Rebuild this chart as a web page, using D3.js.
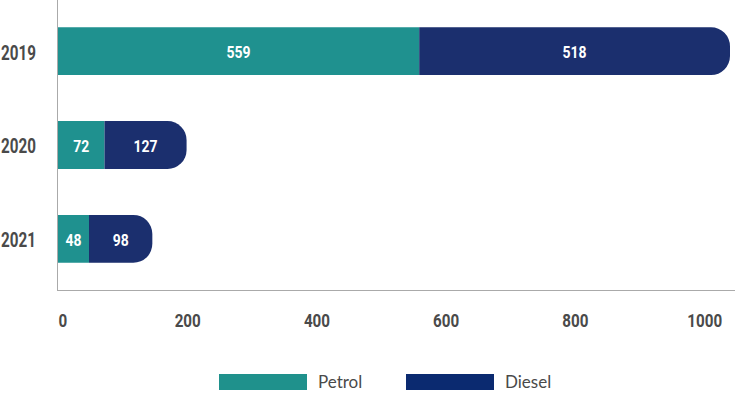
<!DOCTYPE html>
<html lang="en">
<head>
    <meta charset="utf-8">
    <title>Petrol / Diesel by year</title>
    <style type="text/css">
        body { margin: 0; background: #fff; }
        .num { font-family: Roboto, "DejaVu Sans", sans-serif; font-weight: bold; }
        .leg { font-family: Lato, "Open Sans", sans-serif; }
    </style>
    <script src="https://d3js.org/d3.v7.min.js"></script>
</head>
<body>
<div id="chart"></div>
<script type="text/javascript">
    // data
    var years = ["2019", "2020", "2021"],
        petrol = [559, 72, 48],
        diesel = [518, 127, 98],
        series = ["Petrol", "Diesel"],
        xticks = [0, 200, 400, 600, 800, 1000];

    var W = 735, H = 406,
        m = {left: 58, top: 0, plotBottom: 290, right: 730},
        colors = {Petrol: "#1f918f", Diesel: "#1b2f6e"},
        legendColors = {Petrol: "#1f918c", Diesel: "#0b2a70"},
        txt = "#4a4a4a",
        r = 19;

    var x = d3.scaleLinear().domain([0, 1040]).range([m.left, m.right]).clamp(true);
    var y = d3.scaleBand().domain(years).range([0, m.plotBottom])
        .paddingInner(0.49).paddingOuter(0.29);

    var svg = d3.select("#chart").append("svg")
        .attr("width", W)
        .attr("height", H);

    // no condensed face installed -> squeeze the glyphs
    function squeeze(sel, k) {
        sel.each(function () {
            var w = this.getComputedTextLength();
            d3.select(this).attr("textLength", w * k).attr("lengthAdjust", "spacingAndGlyphs");
        });
    }

    // stack the two series per year
    var rows = years.map(function (yr, i) {
        return {year: yr, Petrol: petrol[i], Diesel: diesel[i]};
    });
    var stacked = d3.stack().keys(series)(rows);

    // rect with rounded right end only
    function barPath(x0, x1, y0, h, round) {
        var rr = round ? Math.min(r, (x1 - x0), h / 2) : 0;
        var p = d3.path();
        p.moveTo(x0, y0);
        p.lineTo(x1 - rr, y0);
        if (rr) p.arcTo(x1, y0, x1, y0 + rr, rr);
        p.lineTo(x1, y0 + h - rr);
        if (rr) p.arcTo(x1, y0 + h, x1 - rr, y0 + h, rr);
        p.lineTo(x0, y0 + h);
        p.closePath();
        return p.toString();
    }

    var layers = svg.append("g").selectAll("g").data(stacked)
        .enter().append("g")
        .attr("fill", function (d) { return colors[d.key]; });

    layers.selectAll("path").data(function (d) {
        return d.map(function (v) { return {key: d.key, v: v}; });
    })
        .enter().append("path")
        .attr("d", function (d) {
            return barPath(x(d.v[0]), x(d.v[1]), y(d.v.data.year), y.bandwidth(), d.key === "Diesel");
        });

    // value labels centred in each segment
    layers.selectAll("text").data(function (d) {
        return d.map(function (v) { return {key: d.key, v: v}; });
    })
        .enter().append("text")
        .attr("class", "num")
        .attr("x", function (d) { return (x(d.v[0]) + x(d.v[1])) / 2; })
        .attr("y", function (d) { return y(d.v.data.year) + y.bandwidth() / 2 + 1; })
        .attr("dy", "0.36em")
        .attr("text-anchor", "middle")
        .attr("fill", "#fff")
        .style("font-size", "17px")
        .text(function (d) { return d.v[1] - d.v[0]; })
        .call(squeeze, 0.82);

    // axis lines
    svg.append("line")
        .attr("x1", m.left - 0.5).attr("x2", m.left - 0.5)
        .attr("y1", 0).attr("y2", m.plotBottom + 1)
        .attr("stroke", "#aaa");
    svg.append("line")
        .attr("x1", m.left - 1).attr("x2", W)
        .attr("y1", m.plotBottom + 0.5).attr("y2", m.plotBottom + 0.5)
        .attr("stroke", "#aaa");

    // year labels
    var yAxis = svg.append("g")
        .attr("transform", "translate(36,2)")
        .call(d3.axisLeft(y).tickSize(0).tickPadding(0));
    yAxis.select(".domain").remove();
    yAxis.selectAll("text")
        .attr("class", "num")
        .attr("fill", txt)
        .style("font-size", "20px")
        .call(squeeze, 0.76);

    // x tick labels
    var xAxis = svg.append("g")
        .attr("transform", "translate(0,313)")
        .call(d3.axisBottom(x).tickValues(xticks).tickFormat(d3.format("d")).tickSize(0).tickPadding(0));
    xAxis.select(".domain").remove();
    xAxis.selectAll("text")
        .attr("class", "num")
        .attr("fill", txt)
        .style("font-size", "19px")
        .attr("text-anchor", function (d) { return d === 0 ? "start" : "middle"; })
        .call(squeeze, 0.8);

    // legend
    var legend = svg.append("g").attr("class", "leg");
    var lx = [219, 406];
    series.forEach(function (s, i) {
        legend.append("rect")
            .attr("x", lx[i]).attr("y", 374)
            .attr("width", 88).attr("height", 16)
            .attr("fill", legendColors[s]);
        legend.append("text")
            .attr("x", lx[i] + 99).attr("y", 382)
            .attr("dy", "0.35em")
            .attr("fill", txt)
            .style("font-size", "17px")
            .text(s);
    });
</script>
</body>
</html>
